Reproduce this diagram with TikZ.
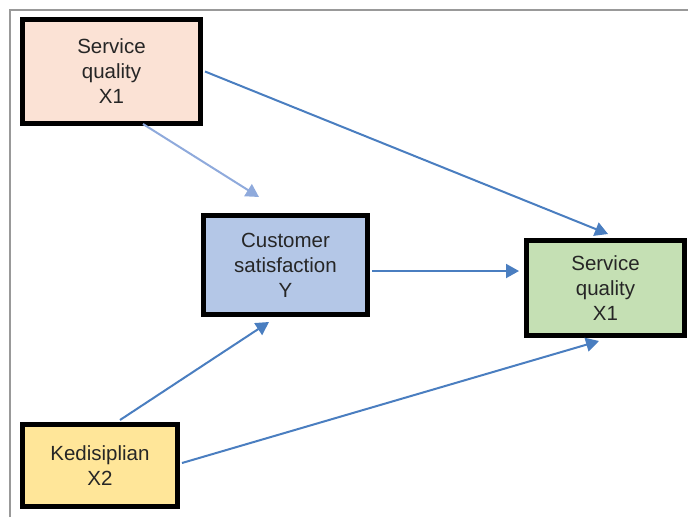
\documentclass[tikz,border=0pt]{standalone}
\usepackage{fontspec}
\setmainfont{Liberation Sans}
\usetikzlibrary{arrows.meta}
\definecolor{pinkfill}{HTML}{FBE2D5}
\definecolor{bluefill}{HTML}{B4C7E7}
\definecolor{greenfill}{HTML}{C5E0B4}
\definecolor{yellowfill}{HTML}{FFE699}
\definecolor{arrdark}{HTML}{4A7EC0}
\definecolor{arrlight}{HTML}{8FAADC}
\definecolor{txt}{HTML}{262626}
\tikzset{
  box/.style={draw=black, line width=5pt, rectangle, align=center, inner sep=0pt,
    text=txt, font=\fontsize{20.5}{25}\selectfont},
  conn/.style={draw=arrdark, line width=2pt, -{Triangle[length=13pt,width=14pt]}},
  connlight/.style={draw=arrlight, line width=2pt, -{Triangle[length=13pt,width=14pt]}},
}
\begin{document}
\begin{tikzpicture}[x=1pt,y=-1pt]
\useasboundingbox (0,0) rectangle (688,517);
% frame
\draw[draw=gray!80, line width=1.8pt] (10,517) -- (10,10) -- (688,10);
% boxes
\node[box, fill=pinkfill, minimum width=178pt, minimum height=104pt] (b1) at (111.5,71.5) {Service\\quality\\X1};
\node[box, fill=bluefill, minimum width=164pt, minimum height=99pt] (y) at (285.5,265) {Customer\\satisfaction\\Y};
\node[box, fill=greenfill, minimum width=158pt, minimum height=95pt] (g) at (605.5,288) {Service\\quality\\X1};
\node[box, fill=yellowfill, minimum width=155pt, minimum height=82pt] (k) at (100,465.5) {Kedisiplian\\X2};
% connectors (ends placed relative to the boxes)
\draw[conn] ([xshift=2pt]b1.east) -- ([xshift=2.5pt,yshift=4pt]g.north);
\draw[connlight] ([xshift=31.5pt,yshift=2pt]b1.south) -- ([xshift=-26.5pt,yshift=16pt]y.north);
\draw[conn] ([xshift=2pt,yshift=-6pt]y.east) -- ([xshift=-5pt,yshift=17pt]g.west);
\draw[conn] ([xshift=20pt,yshift=2pt]k.north) -- ([xshift=-16.5pt,yshift=-5pt]y.south);
\draw[conn] ([xshift=2pt,yshift=2.5pt]k.east) -- ([xshift=-6.5pt,yshift=-3pt]g.south);
\end{tikzpicture}
\end{document}
